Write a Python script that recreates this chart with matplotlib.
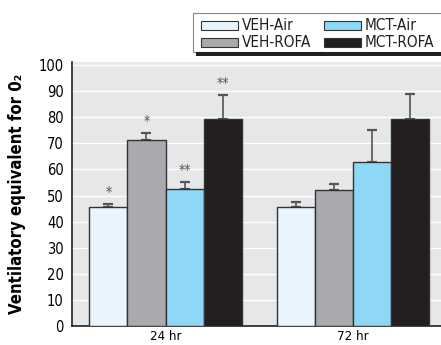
import matplotlib
matplotlib.use("Agg")
import matplotlib.pyplot as plt
from matplotlib.patches import Rectangle
import numpy as np

plt.rcParams['font.family'] = ['DejaVu Sans']
plt.rcParams['font.stretch'] = 'condensed'

groups = ["24 hr", "72 hr"]
series = ["VEH-Air", "VEH-ROFA", "MCT-Air", "MCT-ROFA"]
means = {
    "VEH-Air":  [45.6, 45.7],
    "VEH-ROFA": [71.3, 52.1],
    "MCT-Air":  [52.6, 62.9],
    "MCT-ROFA": [79.3, 79.2],
}
errors = {
    "VEH-Air":  [1.1, 1.9],
    "VEH-ROFA": [2.8, 2.3],
    "MCT-Air":  [2.6, 12.3],
    "MCT-ROFA": [9.3, 9.8],
}
stars = {
    "VEH-Air":  ["*", ""],
    "VEH-ROFA": ["*", ""],
    "MCT-Air":  ["**", ""],
    "MCT-ROFA": ["**", ""],
}
colors = ["#e8f5fd", "#a9aaad", "#8ed8f6", "#231f20"]

fig = plt.figure(figsize=(4.41, 3.45), dpi=100)
ax = fig.add_axes([72/441, 1-326/345, 1-72/441, (326-62)/345])
ax.set_facecolor("#e6e7e8")

x = np.arange(len(groups))
w = 0.203
for i, s in enumerate(series):
    xs = x + (i - 1.5) * w
    ax.bar(xs, means[s], width=w, color=colors[i], edgecolor="#333333",
           linewidth=1.0, zorder=3)
    ax.errorbar(xs, means[s], yerr=[np.zeros(len(groups)), errors[s]], fmt="none",
                ecolor="#555555", elinewidth=1.2, capsize=3.5, capthick=1.6, zorder=2)
    for xi, m, e, st in zip(xs, means[s], errors[s], stars[s]):
        if st:
            ax.text(xi, m + e + 4.5, st, ha="center", va="center", fontsize=10,
                    color="#555555", zorder=4)

ax.set_xlim(-0.4987, 1.469)
ax.set_ylim(0, 101.2)
ax.set_yticks(np.arange(0, 101, 10))
ax.set_xticks(x)
ax.set_xticklabels(groups)
ax.tick_params(axis="both", length=0)
ax.tick_params(axis="x", pad=3, labelsize=9.5)
ax.tick_params(axis="y", pad=6, labelsize=10.5)
ax.grid(axis="y", color="white", linewidth=1.0, zorder=0)
ax.set_axisbelow(True)
for sp in ["top", "right"]:
    ax.spines[sp].set_visible(False)
ax.spines["left"].set_color("#231f20")
ax.spines["bottom"].set_color("#231f20")
ax.spines["left"].set_linewidth(1.2)
ax.spines["bottom"].set_linewidth(1.2)
ax.set_ylabel("Ventilatory equivalent for 0\u2082", fontsize=12,
              fontweight="bold", labelpad=9)

# legend box
def fx(px):
    return px / 441
def fy(py):
    return 1 - py / 345
fig.patches.append(Rectangle((fx(193), fy(52)), fx(441) - fx(193) + 0.01, fy(13) - fy(52),
                             transform=fig.transFigure, facecolor="white",
                             edgecolor="#888888", linewidth=0.8))
fig.patches.append(Rectangle((fx(196), fy(55.5)), fx(441) - fx(196) + 0.01, fy(51.5) - fy(55.5),
                             transform=fig.transFigure, facecolor="#231f20",
                             edgecolor="none"))
sw_x = [201, 201, 324, 324]
sw_y = [21, 38, 21, 38]
for i, s in enumerate(series):
    px, py = sw_x[i], sw_y[i]
    fig.patches.append(Rectangle((fx(px), fy(py + 9)), fx(37), 9 / 345,
                                 transform=fig.transFigure, facecolor=colors[i],
                                 edgecolor="#333333", linewidth=0.8))
    fig.text(fx(px + 41), fy(py + 4.5), s, ha="left", va="center", fontsize=11,
             color="#231f20")

fig.savefig("out.png", dpi=100)
